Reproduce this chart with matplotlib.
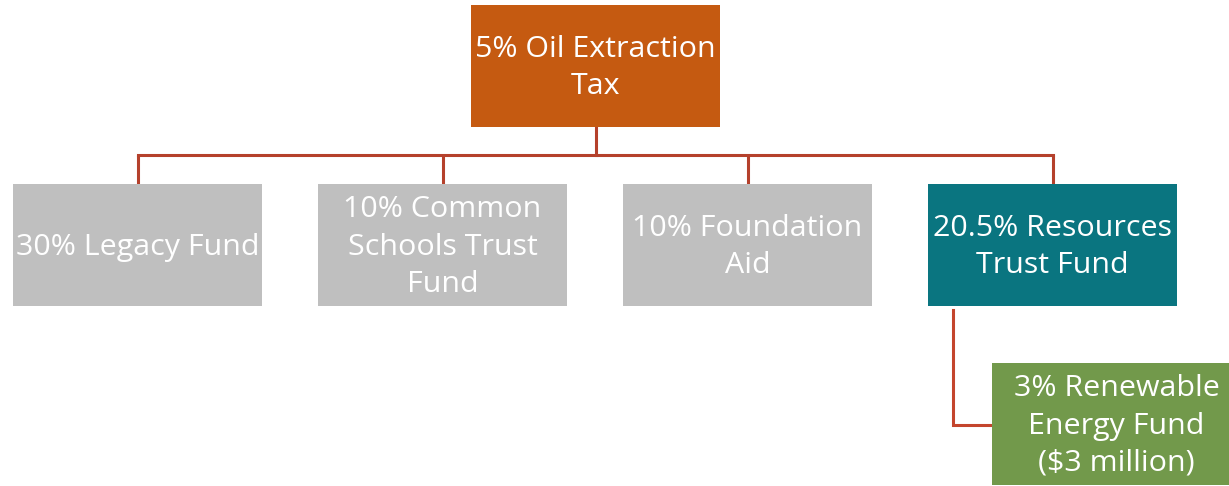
import matplotlib.pyplot as plt
from matplotlib.patches import Rectangle

# Node labels and colours
root_label = '5% Oil Extraction\nTax'
root_color = '#C55A11'

child_labels = ['30% Legacy Fund', '10% Common\nSchools Trust\nFund',
                '10% Foundation\nAid', '20.5% Resources\nTrust Fund']
child_colors = ['#BFBFBF', '#BFBFBF', '#BFBFBF', '#0A7580']

sub_label = '3% Renewable\nEnergy Fund\n($3 million)'
sub_color = '#72994B'

line_color = '#B5412C'

fig = plt.figure(figsize=(12.29, 4.86), dpi=100)
ax = fig.add_axes([0, 0, 1, 1])
ax.set_xlim(0, 1229)
ax.set_ylim(486, 0)
ax.axis('off')

box_w, box_h = 249, 122
font = dict(family=['Open Sans', 'DejaVu Sans'], color='white',
            ha='center', va='center', fontsize=21.9, linespacing=1.38)


def box(x, y, color, label):
    ax.add_patch(Rectangle((x, y), box_w, box_h, facecolor=color,
                           edgecolor='none', zorder=2))
    ax.text(x + box_w / 2, y + box_h / 2 + 2, label, zorder=3, **font)


# root
root_x, root_y = 471, 5
box(root_x, root_y, root_color, root_label)

# children
child_x = [13 + i * 305 for i in range(len(child_labels))]
child_y = 184
bus_y = 155
for x, c, lab in zip(child_x, child_colors, child_labels):
    box(x, child_y, c, lab)
    ax.plot([x + box_w / 2, x + box_w / 2], [bus_y, child_y],
            color=line_color, lw=2.2, zorder=1, solid_capstyle='butt')
ax.plot([child_x[0] + box_w / 2, child_x[-1] + box_w / 2], [bus_y, bus_y],
        color=line_color, lw=2.2, zorder=1, solid_capstyle='projecting')
ax.plot([root_x + box_w / 2, root_x + box_w / 2], [root_y + box_h, bus_y],
        color=line_color, lw=2.2, zorder=1)

# sub-node under the last child
sub_x, sub_y = 992, 363
box(sub_x, sub_y, sub_color, sub_label)
elbow_x = 953
ax.plot([elbow_x, elbow_x, sub_x - 2], [child_y + box_h + 4, 425, 425],
        color='#C4452D', lw=2.2, zorder=1, solid_joinstyle='miter')

fig.savefig('out.png', dpi=100)
